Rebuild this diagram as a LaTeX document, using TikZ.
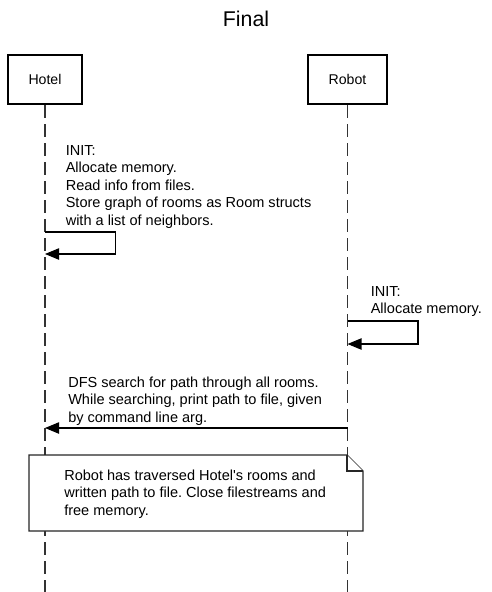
\documentclass[tikz,border=0pt]{standalone}
\usepackage{fontspec}
\setmainfont{Liberation Sans}
\usetikzlibrary{arrows.meta}
\frenchspacing
\begin{document}
\begin{tikzpicture}[x=0.75pt,y=-0.75pt,
  actorbox/.style={draw=black, line width=1.7pt, fill=white, minimum height=36.75pt, inner sep=0pt, font=\fontsize{10.6}{12.6}\selectfont},
  lifeline/.style={draw=black!80, line width=1.1pt, dash pattern=on 9.75pt off 4.5pt},
  msg/.style={draw=black, line width=0.8pt, -{Triangle[length=10.5pt,width=8.5pt]}},
  msgtext/.style={anchor=north west, inner sep=0pt, align=left, font=\fontsize{10.9}{13.125}\selectfont},
  notebox/.style={draw=black!85, line width=0.8pt, fill=white, line join=miter}
]
\useasboundingbox (0,0) rectangle (492,592);

% title
\node[anchor=base, inner sep=0pt, font=\fontsize{16}{19}\selectfont] (title) at (246,26.7) {Final};

% actors
\node[actorbox, minimum width=55.5pt] (hotel) at (45,79.5) {Hotel};
\node[actorbox, minimum width=59.25pt] (robot) at (347.5,79.5) {Robot};

% lifelines
\coordinate (hend) at (45,592);
\coordinate (rend) at (347.5,592);
\draw[lifeline] (hotel.south) -- (hend);
\draw[lifeline] (robot.south) -- (rend);

% hotel self message
\node[msgtext] (t1) at (65.5,145.2) {INIT:\\Allocate memory.\\Read info from files.\\Store graph of rooms as Room structs\\with a list of neighbors.};
\coordinate (h1s) at (45,232);
\coordinate (h1e) at (45,254);
\draw[msg] (h1s) -- (115.5,232) -- (115.5,254) -- (h1e);

% robot self message
\node[msgtext] (t2) at (370.5,286) {INIT:\\Allocate memory.};
\coordinate (r1s) at (347.5,321);
\coordinate (r1e) at (347.5,344);
\draw[msg] (r1s) -- (418,321) -- (418,344) -- (r1e);

% DFS message
\node[msgtext] (t3) at (68,376.5) {DFS search for path through all rooms.\\While searching, print path to file, given\\by command line arg.};
\coordinate (r2) at (347.5,428);
\coordinate (h2) at (45,428);
\draw[msg] (r2) -- (h2);

% note
\draw[notebox] (29,455) -- (347,455) -- (363,471) -- (363,531) -- (29,531) -- cycle;
\draw[notebox] (347,455) -- (347,471) -- (363,471);
\node[msgtext] (t4) at (64,469.5) {Robot has traversed Hotel\textquotesingle s rooms and\\written path to file. Close filestreams and\\free memory.};
\end{tikzpicture}
\end{document}
